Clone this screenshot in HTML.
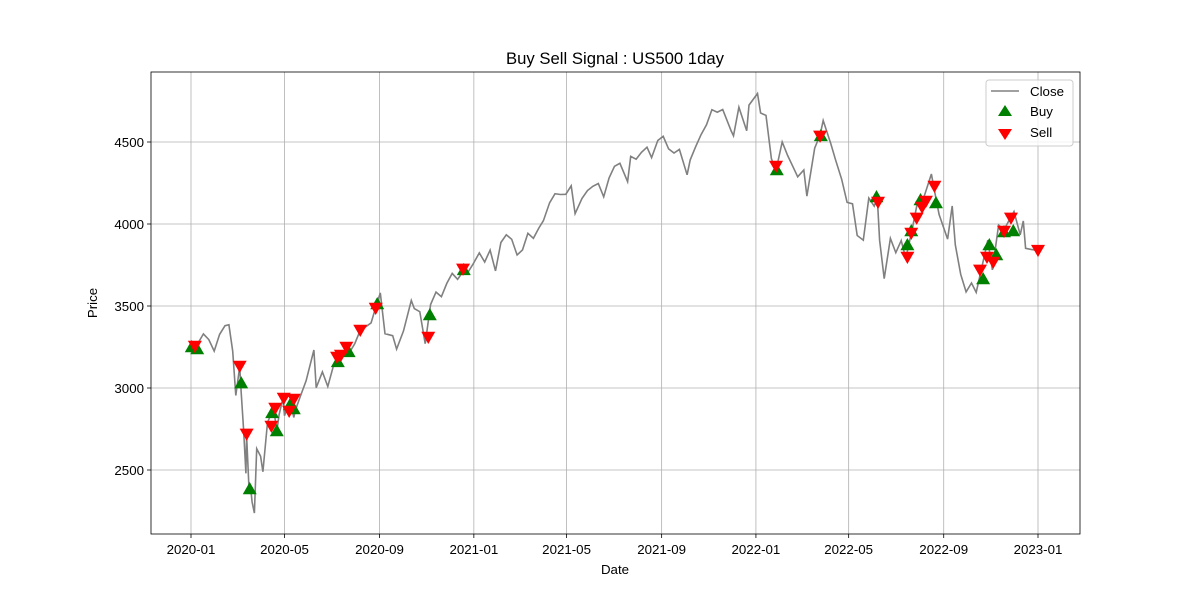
<!DOCTYPE html>
<html><head><meta charset="utf-8"><style>
body{margin:0;background:#fff;}
svg{display:block;font-family:"Liberation Sans","DejaVu Sans",sans-serif;}
</style></head><body>
<svg id="chart" width="1200" height="600" xmlns="http://www.w3.org/2000/svg">
<text x="615" y="64" text-anchor="middle" font-size="16.7">Buy Sell Signal : US500 1day</text>
<text x="615" y="574" text-anchor="middle" font-size="13.3">Date</text>
<text x="97" y="303" text-anchor="middle" font-size="13.3" transform="rotate(-90 97 303)">Price</text>
<g id="grid"></g><g id="line"></g><g id="marks"></g><g id="axes"></g>
</svg>
<script>
const priceDates=["2020-01-02","2020-01-09","2020-01-17","2020-01-24","2020-01-31","2020-02-07","2020-02-14","2020-02-19","2020-02-24","2020-02-28","2020-03-04","2020-03-06","2020-03-09","2020-03-12","2020-03-13","2020-03-16","2020-03-18","2020-03-20","2020-03-23","2020-03-26","2020-03-31","2020-04-03","2020-04-09","2020-04-14","2020-04-17","2020-04-21","2020-04-24","2020-04-29","2020-05-01","2020-05-08","2020-05-13","2020-05-15","2020-05-22","2020-05-29","2020-06-08","2020-06-11","2020-06-19","2020-06-26","2020-07-03","2020-07-10","2020-07-17","2020-07-24","2020-07-31","2020-08-07","2020-08-14","2020-08-21","2020-08-28","2020-09-02","2020-09-08","2020-09-18","2020-09-23","2020-10-02","2020-10-12","2020-10-16","2020-10-23","2020-10-30","2020-11-06","2020-11-13","2020-11-20","2020-11-27","2020-12-04","2020-12-11","2020-12-18","2020-12-24","2020-12-31","2021-01-08","2021-01-15","2021-01-22","2021-01-29","2021-02-05","2021-02-12","2021-02-19","2021-02-26","2021-03-05","2021-03-12","2021-03-19","2021-03-26","2021-04-01","2021-04-09","2021-04-16","2021-04-23","2021-04-30","2021-05-07","2021-05-12","2021-05-21","2021-05-28","2021-06-04","2021-06-11","2021-06-18","2021-06-25","2021-07-02","2021-07-09","2021-07-19","2021-07-23","2021-07-30","2021-08-06","2021-08-13","2021-08-19","2021-08-27","2021-09-03","2021-09-10","2021-09-17","2021-09-24","2021-10-04","2021-10-08","2021-10-15","2021-10-22","2021-10-29","2021-11-05","2021-11-12","2021-11-19","2021-11-30","2021-12-03","2021-12-10","2021-12-20","2021-12-23","2022-01-03","2022-01-07","2022-01-14","2022-01-21","2022-01-27","2022-02-04","2022-02-11","2022-02-18","2022-02-24","2022-03-04","2022-03-08","2022-03-18","2022-03-25","2022-03-29","2022-04-08","2022-04-14","2022-04-22","2022-04-29","2022-05-06","2022-05-12","2022-05-20","2022-05-27","2022-06-03","2022-06-07","2022-06-10","2022-06-16","2022-06-24","2022-07-01","2022-07-08","2022-07-14","2022-07-22","2022-07-29","2022-08-05","2022-08-16","2022-08-19","2022-08-26","2022-09-06","2022-09-12","2022-09-16","2022-09-23","2022-09-30","2022-10-07","2022-10-13","2022-10-21","2022-10-28","2022-11-03","2022-11-11","2022-11-18","2022-11-25","2022-12-01","2022-12-09","2022-12-13","2022-12-16","2022-12-23","2022-12-30"];
const closes=[3250,3265,3330,3295,3225,3327,3380,3386,3225,2954,3130,2972,2746,2480,2711,2386,2398,2305,2237,2630,2584,2489,2790,2846,2875,2736,2837,2939,2831,2930,2820,2864,2955,3044,3232,3002,3098,3009,3130,3185,3225,3216,3271,3351,3373,3397,3508,3580,3331,3319,3237,3348,3534,3484,3465,3270,3509,3585,3557,3638,3699,3663,3709,3703,3756,3824,3768,3841,3714,3887,3934,3907,3811,3842,3943,3913,3975,4020,4129,4185,4180,4181,4233,4063,4156,4204,4230,4247,4166,4281,4352,4370,4258,4412,4395,4437,4468,4405,4509,4535,4458,4433,4455,4300,4391,4471,4545,4605,4697,4682,4698,4567,4538,4712,4568,4725,4796,4677,4662,4398,4326,4500,4418,4349,4288,4329,4170,4463,4543,4631,4488,4392,4272,4132,4123,3930,3901,4158,4109,4160,3901,3667,3912,3825,3899,3790,3962,4130,4145,4305,4228,4058,3908,4110,3873,3693,3586,3640,3583,3752,3901,3720,3993,3965,4026,4076,3934,4019,3852,3845,3840];
const buyDates=["2020-01-02","2020-01-09","2020-03-06","2020-03-17","2020-04-15","2020-04-21","2020-05-08","2020-05-13","2020-07-09","2020-07-23","2020-08-29","2020-11-05","2020-12-19","2022-01-28","2022-03-26","2022-06-06","2022-07-16","2022-07-21","2022-08-02","2022-08-22","2022-10-22","2022-10-30","2022-11-08","2022-11-18","2022-11-30"];
const buyPrices=[3250,3238,3030,2384,2848,2738,2896,2872,3159,3220,3512,3445,3720,4329,4537,4165,3872,3957,4146,4128,3665,3872,3811,3951,3957];
const sellDates=["2020-01-06","2020-03-04","2020-03-13","2020-04-14","2020-04-19","2020-04-30","2020-05-07","2020-05-13","2020-07-08","2020-07-13","2020-07-20","2020-08-07","2020-08-27","2020-11-03","2020-12-18","2022-01-27","2022-03-25","2022-06-08","2022-07-16","2022-07-21","2022-07-28","2022-08-04","2022-08-09","2022-08-20","2022-10-18","2022-10-27","2022-11-04","2022-11-18","2022-11-27","2023-01-01"];
const sellPrices=[3256,3134,2720,2768,2878,2939,2860,2933,3189,3201,3250,3354,3488,3311,3726,4354,4537,4134,3799,3945,4037,4104,4140,4232,3720,3799,3768,3957,4037,3841];
const xTickLabels=["2020-01","2020-05","2020-09","2021-01","2021-05","2021-09","2022-01","2022-05","2022-09","2023-01"];
const yTickValues=[2500,3000,3500,4000,4500];

const NS="http://www.w3.org/2000/svg";
const L=151,R=1080,T=72,B=534;
const t0=Date.UTC(2020,0,1),t1=Date.UTC(2023,0,1);
function xs(d){const p=d.split("-").map(Number);const t=Date.UTC(p[0],p[1]-1,p[2]||1);return 191+(t-t0)/(t1-t0)*847;}
function ys(v){return 142+(4500-v)*0.164;}
function mk(tag,attrs,parent){const e=document.createElementNS(NS,tag);for(const k in attrs)e.setAttribute(k,attrs[k]);document.getElementById(parent).appendChild(e);return e;}

xTickLabels.forEach(lab=>{const x=xs(lab);
 const g=mk("line",{x1:x,x2:x,y1:T,y2:B,stroke:"#b0b0b0","stroke-width":0.8},"grid");
 
 
 const tk=mk("line",{x1:x,x2:x,y1:B,y2:B+4,stroke:"#000","stroke-width":0.8},"axes");
 
 
 const t=mk("text",{x:x,y:B+20,"text-anchor":"middle","font-size":13.3},"axes");t.textContent=lab;
 
 
});
yTickValues.forEach(v=>{const y=ys(v);
 const g=mk("line",{x1:L,x2:R,y1:y,y2:y,stroke:"#b0b0b0","stroke-width":0.8},"grid");
 
 
 const tk=mk("line",{x1:L-4,x2:L,y1:y,y2:y,stroke:"#000","stroke-width":0.8},"axes");
 
 
 const t=mk("text",{x:L-7,y:y+5,"text-anchor":"end","font-size":13.3},"axes");t.textContent=v;
 
 
});
const frame=mk("rect",{x:L,y:T,width:R-L,height:B-T,fill:"none",stroke:"#000","stroke-width":0.8},"axes");



const pts=priceDates.map((d,i)=>xs(d).toFixed(1)+","+ys(closes[i]).toFixed(1)).join(" ");
const pl=mk("polyline",{points:pts,fill:"none",stroke:"#808080","stroke-width":1.6},"line");



function tri(x,y,up,color){const s=7;
 const p=up?`${x},${y-s} ${x-s},${y+s*0.75} ${x+s},${y+s*0.75}`:`${x},${y+s} ${x-s},${y-s*0.75} ${x+s},${y-s*0.75}`;
 return mk("polygon",{points:p,fill:color},"marks");}
buyDates.forEach((d,i)=>{const m=tri(xs(d),ys(buyPrices[i]),true,"green");
 
 });
sellDates.forEach((d,i)=>{const m=tri(xs(d),ys(sellPrices[i]),false,"red");
 
 });

const lg=mk("g",{},"axes");


lg.innerHTML='<rect x="986" y="80" width="87" height="66" rx="3" fill="#fff" fill-opacity="0.8" stroke="#ccc"/>'+
'<line x1="991" x2="1019" y1="91" y2="91" stroke="#808080" stroke-width="1.6"/>'+
'<text x="1030" y="96" font-size="13.3">Close</text>'+
'<polygon points="1005,105 998,116 1012,116" fill="green"/>'+
'<text x="1030" y="116" font-size="13.3">Buy</text>'+
'<polygon points="1005,140 998,129 1012,129" fill="red"/>'+
'<text x="1030" y="137" font-size="13.3">Sell</text>';
</script>
</body></html>
